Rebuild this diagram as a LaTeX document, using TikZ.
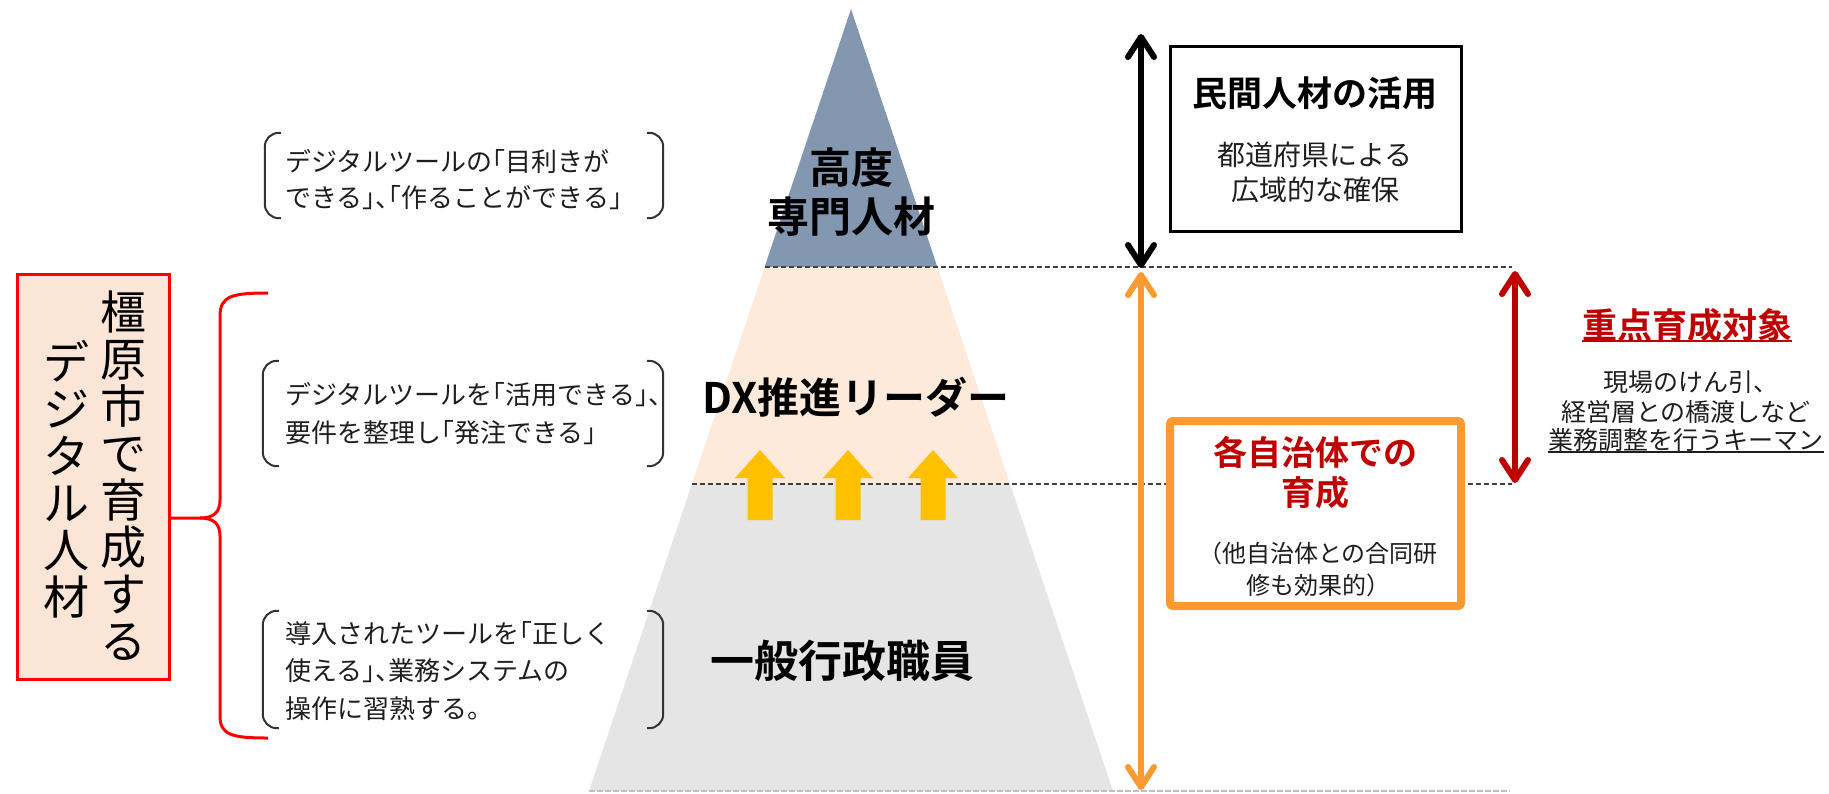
\documentclass[tikz,border=0pt]{standalone}
\usepackage{fontspec}
\setmainfont{Noto Sans CJK JP}[BoldFont={Noto Sans CJK JP Bold}]
\newfontfamily\halffam{Noto Sans CJK JP}[RawFeature=+halt]
\usetikzlibrary{arrows.meta}
\definecolor{topblue}{HTML}{8497B0}
\definecolor{midpeach}{HTML}{FDEADA}
\definecolor{botgray}{HTML}{E5E5E5}
\definecolor{boxpeach}{HTML}{FBE5D6}
\definecolor{darkred}{HTML}{C00000}
\definecolor{orangeA}{HTML}{F99A33}
\definecolor{arrowyellow}{HTML}{FFC000}
\definecolor{txtgray}{HTML}{1E1E1E}
\definecolor{dashdark}{HTML}{404040}
\definecolor{dashlight}{HTML}{BFBFBF}
\newcommand{\myfs}[2]{\fontsize{#1pt}{#2pt}\selectfont}
\tikzset{
  dashln/.style={draw=dashdark, line width=1.5pt, dash pattern=on 5pt off 3pt},
  dashlt/.style={draw=dashlight, line width=1.5pt, dash pattern=on 6pt off 2pt},
  frame/.style={draw=none, inner sep=0pt},
  brk/.style={draw=black!80, line width=2pt, rounded corners=14pt},
  desc/.style={anchor=west, align=left, inner sep=0pt, text=txtgray},
  lvl/.style={align=center, inner sep=0pt, text=black, font=\bfseries\myfs{42}{49}},
  dbl/.style={line width=6pt, {Straight Barb[length=20pt,width=26pt,round]}-{Straight Barb[length=20pt,width=26pt,round]}},
  upar/.style={fill=arrowyellow, draw=none},
}
\begin{document}
\begin{tikzpicture}[x=1pt,y=-1pt]
\useasboundingbox (0,0) rectangle (1829,793);
% pyramid
\coordinate (apex) at (851,9);
\coordinate (t1l) at (764.6,267); \coordinate (t1r) at (937.4,267);
\coordinate (t2l) at (691.9,484); \coordinate (t2r) at (1010.1,484);
\coordinate (t3l) at (589,791);   \coordinate (t3r) at (1113,791);
\fill[topblue] (apex) -- (t1r) -- (t1l) -- cycle;
\fill[midpeach] (t1l) -- (t1r) -- (t2r) -- (t2l) -- cycle;
\fill[botgray] (t2l) -- (t2r) -- (t3r) -- (t3l) -- cycle;
% dashed level lines
\coordinate (e1) at (1512,267); \coordinate (e2) at (1512,484); \coordinate (e3) at (1510,791);
\draw[dashln] (t1l) -- (e1);
\draw[dashln] (t2l) -- (e2);
\draw[dashlt] (t3l) -- (e3);
% yellow up arrows
\foreach \cx in {760,848,933}{
  \fill[upar] (\cx,450) -- ({\cx+25},478) -- ({\cx+12.5},478) -- ({\cx+12.5},520)
     -- ({\cx-12.5},520) -- ({\cx-12.5},478) -- ({\cx-25},478) -- cycle;
}
% level labels
\node[lvl] (lv1) at (851,192) {高度\\専門人材};
\node[lvl, font=\bfseries\myfs{42}{48}] (lv2) at (856,397) {DX推進リーダー};
\node[lvl, font=\bfseries\myfs{44}{50}] (lv3) at (842,661) {一般行政職員};
% left red box
\node[draw=red, line width=3pt, fill=boxpeach, minimum width=152pt, minimum height=405pt, inner sep=0pt] (rb) at (93.5,477) {};
\node[align=center, inner sep=0pt, font=\myfs{46}{47}] (c1) at (123,476) {橿\\原\\市\\で\\育\\成\\す\\る};
\node[align=center, inner sep=0pt, font=\myfs{46}{47}] (c2) at (66,479) {デ\\ジ\\タ\\ル\\人\\材};
% red brace
\draw[red, line width=3pt] (268,293) .. controls (232,293) and (220,296) .. (220,316) -- (220,500)
   .. controls (220,512) and (214,518) .. (200,518) -- ([yshift=-41pt]rb.east);
\draw[red, line width=3pt] (200,518) .. controls (214,518) and (220,524) .. (220,536) -- (220,716)
   .. controls (220,735) and (232,738) .. (268,738);
% bracket frames
\node[frame, minimum width=398pt, minimum height=85pt] (f1) at (464,175.5) {};
\node[frame, minimum width=400pt, minimum height=105pt] (f2) at (463,413.5) {};
\node[frame, minimum width=400pt, minimum height=117pt] (f3) at (463,669.5) {};
\foreach \f in {f1,f2,f3}{
  \draw[brk] ([xshift=16pt]\f.north west) -- (\f.north west) -- (\f.south west) -- ([xshift=16pt]\f.south west);
  \draw[brk] ([xshift=-16pt]\f.north east) -- (\f.north east) -- (\f.south east) -- ([xshift=-16pt]\f.south east);
}
\node[desc, font=\halffam\myfs{26}{36}] (d1) at (285,180) {デジタルツールの「目利きが\\できる」、「作ることができる」};
\node[desc, font=\halffam\myfs{26}{38}] (d2) at (285,414) {デジタルツールを「活用できる」、\\要件を整理し「発注できる」};
\node[desc, font=\halffam\myfs{26}{37.5}] (d3) at (285,671) {導入されたツールを「正しく\\使える」、業務システムの\\操作に習熟する。};
% right: black box
\node[draw=black, line width=3pt, minimum width=291pt, minimum height=185pt, inner sep=0pt] (mb) at (1316,139) {};
\node[inner sep=0pt, font=\bfseries\myfs{35}{40}] (mbt) at (1315,93) {民間人材の活用};
\node[align=center, inner sep=0pt, text=txtgray, font=\myfs{28}{35}] (mbs) at (1315,172) {都道府県による\\広域的な確保};
% arrows
\coordinate (ba) at (1141,34); \coordinate (bb) at (1141,268);
\draw[dbl, black] (ba) -- (bb);
\coordinate (oa) at (1141,272); \coordinate (ob) at (1141,790);
\draw[dbl, orangeA] (oa) -- (ob);
\coordinate (ra) at (1515,271); \coordinate (rbt) at (1515,483);
\draw[dbl, darkred] (ra) -- (rbt);
% orange box
\node[draw=orangeA, fill=white, line width=8pt, rounded corners=3pt, minimum width=291pt, minimum height=185pt, inner sep=0pt] (ob1) at (1315.5,513.5) {};
\node[align=center, inner sep=0pt, text=darkred, font=\bfseries\myfs{34}{40}] (obt) at (1315,473) {各自治体での\\育成};
\node[align=center, inner sep=0pt, text=txtgray, font=\myfs{24}{32}] (obs) at (1318,569) {（他自治体との合同研\\修も効果的）};
% focus text
\node[inner sep=0pt, text=darkred, font=\bfseries\myfs{35}{40}] (jt) at (1687,325) {重点育成対象};
\draw[darkred, line width=2pt] ([yshift=1pt]jt.south west) -- ([yshift=1pt]jt.south east);
\node[inner sep=0pt, text=txtgray, font=\halffam\myfs{25}{29}] (j1) at (1685,382) {現場のけん引、};
\node[inner sep=0pt, text=txtgray, font=\myfs{25}{29}] (j2) at (1686,412) {経営層との橋渡しなど};
\node[inner sep=0pt, text=txtgray, font=\myfs{25}{29}] (j3) at (1686,440) {業務調整を行うキーマン};
\draw[txtgray, line width=1.8pt] (j3.south west) -- (j3.south east);
\end{tikzpicture}
\end{document}
